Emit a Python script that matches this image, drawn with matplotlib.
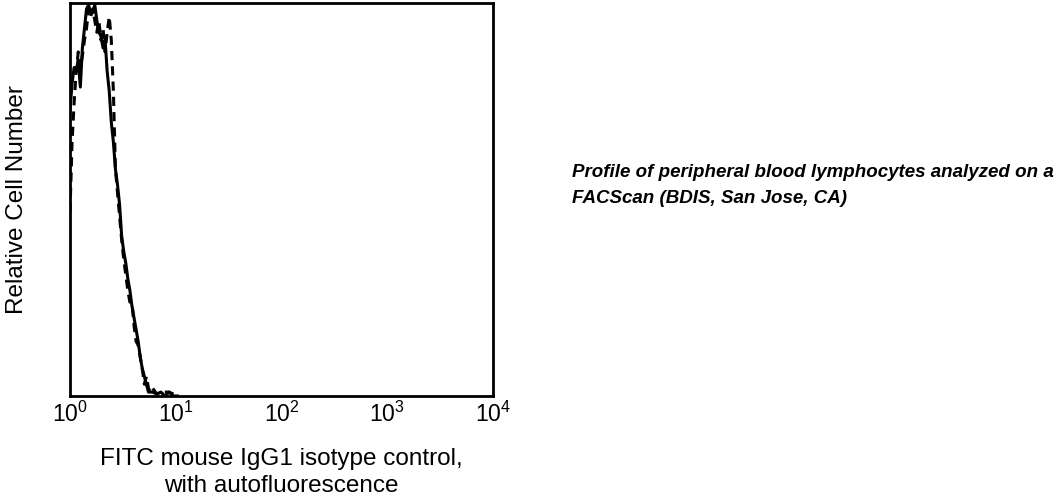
import numpy as np
import matplotlib
matplotlib.use("Agg")
import matplotlib.pyplot as plt

plt.rcParams['font.family'] = ['Liberation Sans', 'DejaVu Sans']
plt.rcParams['mathtext.default'] = 'regular'

# channel numbers (1024 channels over 4 log decades) and relative counts
channels = [0, 5, 10, 15, 20, 25, 30, 35, 40, 45, 50, 55, 60, 65, 70, 75, 80, 85, 90, 95,
            100, 105, 110, 115, 120, 125, 130, 135, 140, 145, 150, 155, 160, 165, 170, 175,
            180, 185, 190, 195, 200, 210, 220, 230, 240, 250, 260]
solid = [73, 80, 84, 83, 86, 79, 89, 94, 99, 100, 98, 98, 100, 96, 93, 92, 89, 91, 83, 78,
         70, 65, 58, 54, 49, 41, 37, 34, 30, 27, 23, 20, 17, 14, 10, 7,
         5, 3, 1, 1, 1, 0.5, 1, 0, 1, 0, 0]
dashed = [47, 65, 75, 83, 88, 84, 87, 91, 94, 99, 97, 99, 96, 93, 96, 91, 94, 88, 93, 97,
          91, 78, 58, 52, 46, 40, 35, 31, 27, 24, 24, 18, 14, 13, 10, 7,
          3, 5, 2, 1, 2, 0.5, 1, 1, 1, 0.5, 0]

xticks = [1, 10, 100, 1000, 10000]
xticklabels = ['$10^0$', '$10^1$', '$10^2$', '$10^3$', '$10^4$']

fluor = 10 ** (np.array(channels) / 256.0)

fig = plt.figure(figsize=(10.59, 5.01), dpi=100)
ax = fig.add_axes([0.0661, 0.2096, 0.3994, 0.7844])

ax.plot(fluor, solid, color='black', lw=2.2)
ax.plot(fluor, dashed, color='black', lw=2.2, ls=(0, (3, 2)))

ax.set_xscale('log')
ax.set_xlim(1, 10000)
ax.set_ylim(0, 100.5)
ax.set_xticks(xticks)
ax.set_xticklabels(xticklabels, fontsize=16.5)
ax.minorticks_off()
ax.tick_params(axis='x', length=0, pad=4)
ax.set_yticks([])
for s in ax.spines.values():
    s.set_linewidth(2.0)

ax.set_ylabel('Relative Cell Number', fontsize=17.5, labelpad=30)
ax.set_xlabel('FITC mouse IgG1 isotype control,\nwith autofluorescence',
              fontsize=17.5, labelpad=15, linespacing=1.3)

fig.text(0.540, 0.629, 'Profile of peripheral blood lymphocytes analyzed on a\nFACScan (BDIS, San Jose, CA)',
         fontsize=13.5, fontweight='bold', fontstyle='italic', va='center', ha='left', linespacing=1.7)

fig.savefig('out.png', dpi=100)
